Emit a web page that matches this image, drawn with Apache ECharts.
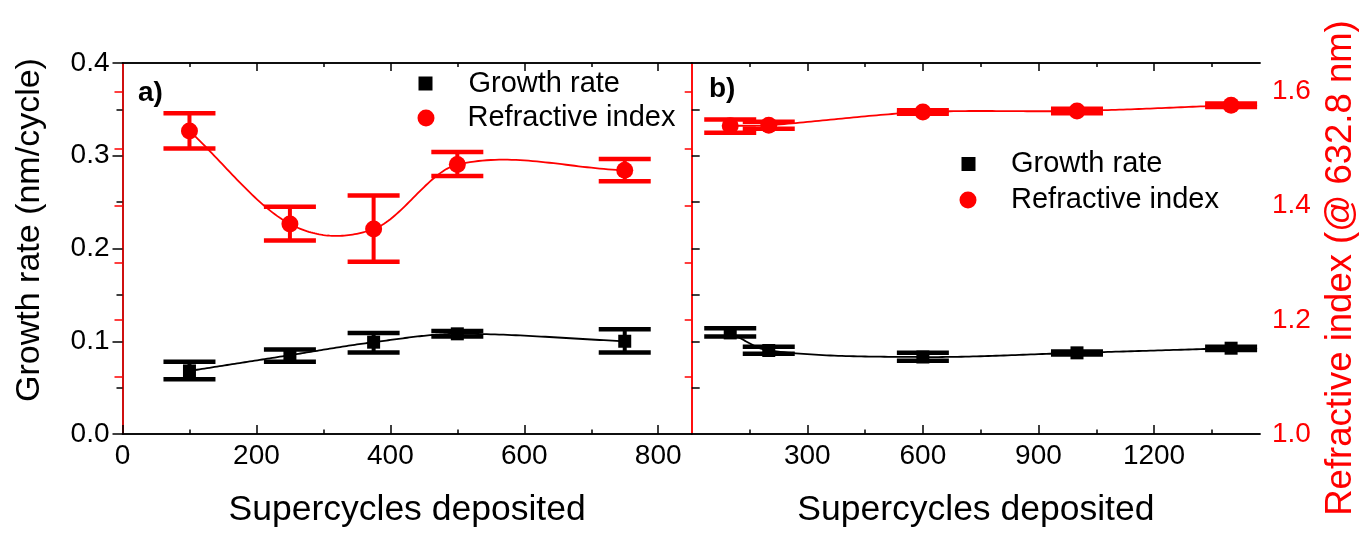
<!DOCTYPE html>
<html>
<head>
<meta charset="utf-8">
<script src="https://cdn.jsdelivr.net/npm/echarts@6/dist/echarts.min.js"></script>
<style>
html,body{margin:0;padding:0;background:#fff;}
#chart{width:1367px;height:533px;}
</style>
</head>
<body>
<div id="chart"></div>
<script>
// ---- Panel a) ----
const xA = [100, 250, 375, 500, 750];
const growthA = [0.068, 0.085, 0.099, 0.108, 0.100];
const growthA_lo = [0.059, 0.078, 0.088, 0.105, 0.088];
const growthA_hi = [0.078, 0.091, 0.109, 0.111, 0.113];
const riA = [1.531, 1.368, 1.359, 1.472, 1.462];
const riA_lo = [1.500, 1.339, 1.302, 1.452, 1.443];
const riA_hi = [1.562, 1.398, 1.418, 1.494, 1.482];

// ---- Panel b) ----
const xB = [100, 200, 600, 1000, 1400];
const growthB = [0.109, 0.090, 0.083, 0.0875, 0.0925];
const growthB_lo = [0.105, 0.0865, 0.079, 0.0858, 0.0907];
const growthB_hi = [0.114, 0.094, 0.0875, 0.089, 0.094];
const riB = [1.540, 1.541, 1.564, 1.566, 1.576];
const riB_lo = [1.528, 1.535, 1.561, 1.562, 1.573];
const riB_hi = [1.551, 1.547, 1.567, 1.570, 1.579];

// ---- Tick values ----
const xTicksA = [0, 200, 400, 600, 800];
const xMinorA = [100, 300, 500, 700];
const xTopA = [200, 400, 600, 800];
const xTicksB = [300, 600, 900, 1200];
const xMinorB = [150, 450, 750, 1050, 1350];
const riTicks = [1.1, 1.2, 1.3, 1.4, 1.5, 1.6];
const riLabels = [1.0, 1.2, 1.4, 1.6];
const grInnerTicks = [0.05, 0.1, 0.15, 0.2, 0.25, 0.3, 0.35];

const FONT = 'Liberation Sans, Arial, Helvetica, sans-serif';
const RED = '#ff0000';
const BLACK = '#000000';

const chart = echarts.init(document.getElementById('chart'), null, {renderer: 'canvas'});

// Catmull-Rom style tangents (used only to render the smooth fitted curve between the data points)
function tangents(xs, ys) {
  const n = xs.length, m = [];
  for (let i = 0; i < n; i++) {
    const a = Math.max(0, i - 1), b = Math.min(n - 1, i + 1);
    m.push((ys[b] - ys[a]) / (xs[b] - xs[a]));
  }
  return m;
}

function fitSeries(name, xs, ys, xi, yi, color) {
  const m = tangents(xs, ys);
  return {
    name: name, type: 'custom', xAxisIndex: xi, yAxisIndex: yi, z: 3, silent: true,
    data: xs.map((x, i) => [x, ys[i]]),
    renderItem: function (params, api) {
      const i = params.dataIndex;
      if (i >= xs.length - 1) return null;
      const x0 = xs[i], x1 = xs[i + 1], y0 = ys[i], y1 = ys[i + 1], h = x1 - x0;
      const pts = [];
      const N = 40;
      for (let k = 0; k <= N; k++) {
        const t = k / N;
        const h00 = 2 * t * t * t - 3 * t * t + 1, h10 = t * t * t - 2 * t * t + t;
        const h01 = -2 * t * t * t + 3 * t * t, h11 = t * t * t - t * t;
        const y = h00 * y0 + h10 * h * m[i] + h01 * y1 + h11 * h * m[i + 1];
        pts.push(api.coord([x0 + t * h, y]));
      }
      return {type: 'polyline', shape: {points: pts}, style: {stroke: color, lineWidth: 1.8, fill: null}};
    }
  };
}

function xAxisDef(grid, pos, min, max, ticks, len, opts) {
  return Object.assign({
    type: 'value', gridIndex: grid, position: pos, min: min, max: max,
    axisLine: {show: true, lineStyle: {color: BLACK, width: 1.5}},
    axisTick: {show: true, inside: true, length: len, customValues: ticks, lineStyle: {color: BLACK, width: 1.5}},
    axisLabel: {show: false},
    splitLine: {show: false}
  }, opts || {});
}

function errSeries(name, xs, lo, hi, xi, yi, color) {
  return {
    name: name, type: 'custom', xAxisIndex: xi, yAxisIndex: yi, z: 2, silent: true,
    data: xs.map((x, i) => [x, lo[i], hi[i]]),
    renderItem: function (params, api) {
      const p1 = api.coord([api.value(0), api.value(1)]);
      const p2 = api.coord([api.value(0), api.value(2)]);
      const hw = 26;
      return {
        type: 'group',
        children: [
          {type: 'line', shape: {x1: p1[0], y1: p1[1], x2: p2[0], y2: p2[1]}, style: {stroke: color, lineWidth: 4}},
          {type: 'line', shape: {x1: p1[0] - hw, y1: p1[1], x2: p1[0] + hw, y2: p1[1]}, style: {stroke: color, lineWidth: 4.5}},
          {type: 'line', shape: {x1: p2[0] - hw, y1: p2[1], x2: p2[0] + hw, y2: p2[1]}, style: {stroke: color, lineWidth: 4.5}}
        ]
      };
    }
  };
}

function pointSeries(name, xs, ys, xi, yi, color, symbol, size) {
  return {
    name: name, type: 'scatter', xAxisIndex: xi, yAxisIndex: yi, z: 4,
    data: xs.map((x, i) => [x, ys[i]]),
    symbol: symbol, symbolSize: size,
    itemStyle: {color: color, opacity: 1}
  };
}

function legendDef(name, icon, size, left, top, padLeft) {
  return {
    data: [{name: name, icon: icon}],
    left: left, top: top, padding: 0,
    itemWidth: size, itemHeight: size,
    selectedMode: false,
    textStyle: {fontSize: 29, fontFamily: FONT, color: BLACK, lineHeight: 30, padding: [0, 0, 0, padLeft]}
  };
}

const option = {
  backgroundColor: '#fff',
  animation: false,
  textStyle: {fontFamily: FONT},
  grid: [
    {left: 122.5, top: 63, width: 569.2, height: 375},
    {left: 691.7, top: 63, width: 568.3, height: 375}
  ],
  legend: [
    legendDef('Growth rate', 'rect', 14, 418.5, 68.5, 31),
    legendDef('Refractive index', 'circle', 17, 417.5, 103, 28),
    legendDef('Growth rate', 'rect', 14, 961.5, 149, 30.5),
    legendDef('Refractive index', 'circle', 17, 959.5, 185, 29.5)
  ],
  xAxis: [
    // grid 0
    xAxisDef(0, 'bottom', 0, 850, xTicksA, 9, {
      axisLabel: {show: true, customValues: xTicksA, fontSize: 28, color: BLACK, margin: 8, fontFamily: FONT, formatter: v => String(v)},
      name: 'Supercycles deposited', nameLocation: 'middle', nameGap: 58,
      nameTextStyle: {fontSize: 35.5, color: BLACK, fontFamily: FONT}
    }),
    xAxisDef(0, 'bottom', 0, 850, xMinorA, 4.5),
    xAxisDef(0, 'top', 0, 850, xTopA, 8),
    xAxisDef(0, 'top', 0, 850, xMinorA, 4),
    // grid 1
    xAxisDef(1, 'bottom', 0, 1475, xTicksB, 9, {
      axisLabel: {show: true, customValues: xTicksB, fontSize: 28, color: BLACK, margin: 8, fontFamily: FONT, formatter: v => String(v)},
      name: 'Supercycles deposited', nameLocation: 'middle', nameGap: 58,
      nameTextStyle: {fontSize: 35.5, color: BLACK, fontFamily: FONT}
    }),
    xAxisDef(1, 'bottom', 0, 1475, xMinorB, 4.5),
    xAxisDef(1, 'top', 0, 1475, xTicksB, 8),
    xAxisDef(1, 'top', 0, 1475, xMinorB, 4)
  ],
  yAxis: [
    {
      type: 'value', gridIndex: 0, position: 'left', min: 0, max: 0.4, interval: 0.1,
      axisLine: {show: true, lineStyle: {color: BLACK, width: 1.5}},
      axisTick: {show: true, inside: false, length: 10, lineStyle: {color: BLACK, width: 1.5}},
      minorTick: {show: true, splitNumber: 2, length: 6, lineStyle: {color: BLACK, width: 1.5}},
      axisLabel: {fontSize: 28, color: BLACK, margin: 13, fontFamily: FONT, formatter: v => v.toFixed(1)},
      splitLine: {show: false}, minorSplitLine: {show: false}
    },
    {
      type: 'value', gridIndex: 0, position: 'right', min: 1.0, max: 1.65,
      axisLine: {show: true, lineStyle: {color: RED, width: 1.5}},
      axisTick: {show: true, inside: true, length: 8, customValues: riTicks, lineStyle: {color: RED, width: 1.5}},
      axisLabel: {show: false}, splitLine: {show: false}
    },
    {
      type: 'value', gridIndex: 1, position: 'left', min: 0, max: 0.4,
      axisLine: {show: true, lineStyle: {color: RED, width: 1.5}},
      axisTick: {show: true, inside: true, length: 8, customValues: grInnerTicks, lineStyle: {color: BLACK, width: 1.5}},
      axisLabel: {show: false}, splitLine: {show: false}
    },
    {
      type: 'value', gridIndex: 1, position: 'right', min: 1.0, max: 1.65,
      axisLine: {show: true, lineStyle: {color: RED, width: 1.5}},
      axisTick: {show: true, inside: true, length: 7, customValues: riTicks, lineStyle: {color: RED, width: 1.5}},
      axisLabel: {show: true, customValues: riLabels, fontSize: 28, color: RED, margin: 12, fontFamily: FONT, formatter: v => Number(v).toFixed(1)},
      splitLine: {show: false}
    }
  ],
  graphic: [
    {type: 'text', left: 138, top: 79, style: {text: 'a)', fontSize: 28, fontWeight: 'bold', fontFamily: FONT, fill: BLACK}},
    {type: 'text', left: 709, top: 75, style: {text: 'b)', fontSize: 28, fontWeight: 'bold', fontFamily: FONT, fill: BLACK}},
    {type: 'text', x: 30, y: 230, rotation: Math.PI / 2,
      style: {text: 'Growth rate (nm/cycle)', fontSize: 34, fontFamily: FONT, fill: BLACK, align: 'center', verticalAlign: 'middle'}},
    {type: 'text', x: 1341, y: 268, rotation: Math.PI / 2,
      style: {text: 'Refractive index (@ 632.8 nm)', fontSize: 36.5, fontFamily: FONT, fill: RED, align: 'center', verticalAlign: 'middle'}}
  ],
  series: [
    errSeries('Growth rate error (a)', xA, growthA_lo, growthA_hi, 0, 0, BLACK),
    errSeries('Refractive index error (a)', xA, riA_lo, riA_hi, 0, 1, RED),
    fitSeries('Growth rate fit (a)', xA, growthA, 0, 0, BLACK),
    fitSeries('Refractive index fit (a)', xA, riA, 0, 1, RED),
    pointSeries('Growth rate', xA, growthA, 0, 0, BLACK, 'rect', 13),
    pointSeries('Refractive index', xA, riA, 0, 1, RED, 'circle', 17),
    errSeries('Growth rate error (b)', xB, growthB_lo, growthB_hi, 4, 2, BLACK),
    errSeries('Refractive index error (b)', xB, riB_lo, riB_hi, 4, 3, RED),
    fitSeries('Growth rate fit (b)', xB, growthB, 4, 2, BLACK),
    fitSeries('Refractive index fit (b)', xB, riB, 4, 3, RED),
    pointSeries('Growth rate', xB, growthB, 4, 2, BLACK, 'rect', 13),
    pointSeries('Refractive index', xB, riB, 4, 3, RED, 'circle', 17)
  ]
};
chart.setOption(option);
</script>
</body>
</html>
